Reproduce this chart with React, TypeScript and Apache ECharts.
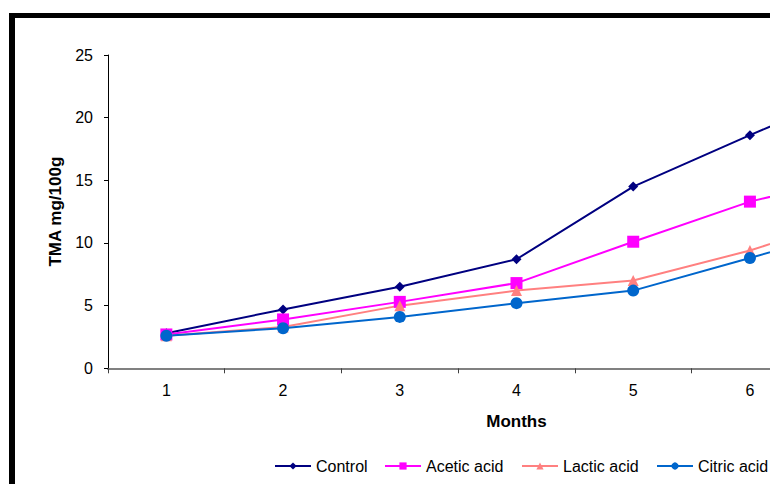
import React, { useEffect, useRef } from "react";
import * as echarts from "echarts";

const months = ["1", "2", "3", "4", "5", "6", "7"];
const control = [2.8, 4.7, 6.5, 8.7, 14.5, 18.6, 22.6];
const acetic = [2.7, 3.9, 5.3, 6.8, 10.1, 13.3, 15.5];
const lactic = [2.6, 3.3, 5.0, 6.2, 7.0, 9.4, 12.4];
const citric = [2.6, 3.2, 4.1, 5.2, 6.2, 8.8, 11.5];
const seriesNames = ["Control", "Acetic acid", "Lactic acid", "Citric acid"];

const FONT = "'Liberation Sans', Arial, sans-serif";
const legendLefts = [274, 384, 521, 656];

export default function App() {
  const ref = useRef<HTMLDivElement>(null);
  useEffect(() => {
    if (!ref.current) return;
    const chart = echarts.init(ref.current, null, { renderer: "svg" });
    const mk = (name: string, data: number[], color: string, symbol: string, size: number) => ({
      name,
      type: "line",
      data,
      symbol,
      symbolSize: size,
      showAllSymbol: true,
      lineStyle: { color, width: 2 },
      itemStyle: { color, borderWidth: 0 },
      emphasis: { disabled: true },
    });
    chart.setOption({
      animation: false,
      textStyle: { fontFamily: FONT },
      grid: { left: 108, top: 55, width: 817, height: 313.3, containLabel: false },
      legend: seriesNames.map((n, i) => ({
        left: legendLefts[i],
        top: 458,
        padding: 0,
        itemWidth: 36,
        itemHeight: 9,
        textStyle: { fontFamily: FONT, fontSize: 16, color: "#000" },
        data: [n],
      })),
      xAxis: {
        type: "category",
        data: months,
        boundaryGap: true,
        name: "Months",
        nameLocation: "middle",
        nameGap: 45,
        nameTextStyle: { fontFamily: FONT, fontSize: 17, fontWeight: "bold", color: "#000" },
        axisLine: { lineStyle: { color: "#808080", width: 2 } },
        axisTick: { show: true, inside: false, length: 5, alignWithLabel: false, lineStyle: { color: "#404040", width: 1 } },
        axisLabel: {
          margin: 14,
          fontFamily: FONT,
          fontSize: 16,
          color: "#000",
          interval: (index: number) => index < 6,
        },
        splitLine: { show: false },
      },
      yAxis: {
        type: "value",
        min: 0,
        max: 25,
        interval: 5,
        name: "TMA mg/100g",
        nameLocation: "middle",
        nameGap: 41,
        nameRotate: 90,
        nameTextStyle: { fontFamily: FONT, fontSize: 17, fontWeight: "bold", color: "#000" },
        axisLine: { show: true, lineStyle: { color: "#000", width: 1 } },
        axisTick: { show: true, inside: false, length: 4, lineStyle: { color: "#000" } },
        axisLabel: { margin: 15, fontFamily: FONT, fontSize: 16, color: "#000" },
        splitLine: { show: false },
      },
      series: [
        mk(seriesNames[0], control, "#000080", "diamond", 10),
        mk(seriesNames[1], acetic, "#FF00FF", "rect", 12),
        mk(seriesNames[2], lactic, "#FF8080", "triangle", 11),
        mk(seriesNames[3], citric, "#0066CC", "circle", 12),
      ],
    });
    return () => chart.dispose();
  }, []);
  return (
    <div style={{ position: "absolute", left: 0, top: 0, width: 770, height: 484, overflow: "hidden", background: "#fff" }}>
      <div ref={ref} style={{ position: "absolute", left: 0, top: 0, width: 1000, height: 484 }} />
      <div
        style={{
          position: "absolute",
          left: 9,
          top: 13,
          width: 900,
          height: 600,
          borderTop: "5px solid #000",
          borderLeft: "6px solid #000",
          pointerEvents: "none",
        }}
      />
    </div>
  );
}
